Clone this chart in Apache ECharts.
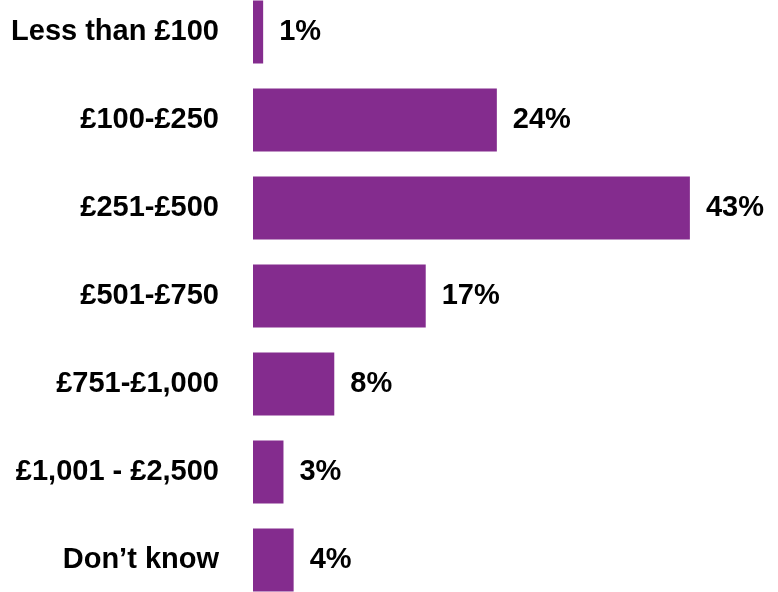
<!DOCTYPE html>
<html>
<head>
<meta charset="utf-8">
<script src="https://cdn.jsdelivr.net/npm/echarts@6/dist/echarts.min.js"></script>
<style>
  html, body { margin: 0; padding: 0; background: #fff; overflow: hidden; }
  /* bands overflow the frame by half a gap top and bottom */
  #chart { width: 778px; height: 616px; position: relative; top: -12px; }
</style>
</head>
<body>
<div id="chart"></div>
<script>
// spending bands, top to bottom
const categories = ['Less than £100', '£100-£250', '£251-£500', '£501-£750', '£751-£1,000', '£1,001 - £2,500', 'Don’t know'];
// share of respondents (%)
const shares = [1, 24, 43, 17, 8, 3, 4];

const font = '"Liberation Sans", Arial, sans-serif';

let chart = echarts.init(document.getElementById('chart'));
chart.setOption({
    animation: false,
    grid: { left: 253, right: 17, top: 0, bottom: 0, containLabel: false },
    xAxis: {
        type: 'value',
        min: 0,
        max: 50,
        show: false
    },
    yAxis: {
        type: 'category',
        data: categories,
        inverse: true,
        axisLine: { show: false },
        axisTick: { show: false },
        splitLine: { show: false },
        axisLabel: {
            margin: 34,
            color: '#000',
            fontFamily: font,
            fontWeight: 'bold',
            fontSize: 29
        }
    },
    series: [{
        type: 'bar',
        data: shares,
        barWidth: 63,
        itemStyle: { color: '#842C8E' },
        label: {
            show: true,
            position: 'right',
            distance: 16,
            formatter: '{c}%',
            color: '#000',
            fontFamily: font,
            fontWeight: 'bold',
            fontSize: 29
        }
    }]
});
</script>
</body>
</html>
